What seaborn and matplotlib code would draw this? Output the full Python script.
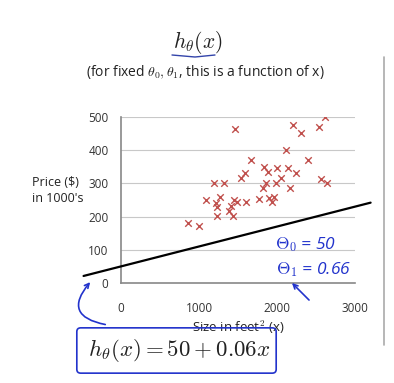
import matplotlib
matplotlib.use("Agg")
import matplotlib.pyplot as plt
import seaborn as sns
import numpy as np
import pandas as pd
from matplotlib.patches import FancyBboxPatch, FancyArrowPatch

sizes = [2615, 2200, 2303, 2534, 1461, 2111, 2402, 1667, 1833, 2004, 2141, 1889,
         2244, 1594, 1534, 2047, 2564, 2645, 1192, 1325, 1855, 1983, 1816, 2167,
         1269, 1094, 1449, 1769, 1902, 1962, 1940, 1603, 1483, 1218, 1235, 1410,
         1380, 1235, 1432, 855, 1004]
prices = [500, 475, 452, 470, 465, 400, 370, 369, 350, 347, 345, 333,
          332, 332, 316, 315, 314, 302, 300, 300, 302, 302, 287, 287,
          260, 250, 250, 253, 255, 260, 243, 244, 243, 242, 230, 232,
          217, 202, 202, 182, 171]
theta0 = 50
theta1 = 0.06
line_x = [-480, 3200]
x_ticks = [0, 1000, 2000, 3000]
y_ticks = [0, 100, 200, 300, 400, 500]

df = pd.DataFrame({"size": sizes, "price": prices})

sns.set_theme(style="white")
plt.rcParams["font.family"] = ["Open Sans", "DejaVu Sans"]
plt.rcParams["mathtext.fontset"] = "cm"

fig = plt.figure(figsize=(3.94, 3.83), dpi=100)
ax = fig.add_axes([121/394, 1 - 283/383, 234/394, 166/383])

for yv in y_ticks[1:]:
    ax.axhline(yv, color="#c8c8c8", lw=0.8, zorder=0)

sns.scatterplot(data=df, x="size", y="price", marker="x", color="#c0504d",
                s=22, linewidth=1.0, ax=ax, zorder=3)

lx = np.array(line_x, dtype=float)
ax.plot(lx, theta0 + theta1 * lx, color="black", lw=1.6, clip_on=False, zorder=4)

ax.set_xlim(0, 3000)
ax.set_ylim(0, 500)
ax.set_xticks(x_ticks)
ax.set_yticks(y_ticks)
ax.set_xticklabels([str(t) for t in x_ticks], fontsize=8.5, color="#333333", fontweight="medium")
ax.set_yticklabels([str(t) for t in y_ticks], fontsize=8.5, color="#333333", fontweight="medium")
for s in ["top", "right"]:
    ax.spines[s].set_visible(False)
for s in ["left", "bottom"]:
    ax.spines[s].set_color("#888888")
    ax.spines[s].set_linewidth(1.2)
ax.tick_params(axis="both", direction="out", length=4, width=1, color="#888888", pad=5)
ax.tick_params(axis="x", pad=10)
ax.set_xlabel("Size in feet$^2$ (x)", fontsize=9.5, color="#222222", labelpad=2,
              fontweight="medium")
ax.set_ylabel("")

fig.text(84/394, 1 - 190/383, "Price ($)\nin 1000's", ha="right", va="center",
         fontsize=9, color="#222222", linespacing=1.3, fontweight="medium",
         multialignment="left")

fig.text(198/394, 1 - 42/383, r"$h_\theta(x)$", ha="center", va="center",
         fontsize=15.5, color="#222222")
fig.add_artist(plt.Line2D([172/394, 195/394, 215/394], [1 - 55/383, 1 - 57/383, 1 - 55/383],
                          color="#3344aa", lw=1.0))
fig.text(205/394, 1 - 72/383, r"(for fixed $\theta_0, \theta_1$, this is a function of x)",
         ha="center", va="center", fontsize=10, color="#222222", fontweight="medium")

fig.add_artist(plt.Line2D([384/394, 384/394], [1 - 57/383, 1 - 345/383],
                          color="#aaaaaa", lw=1.2))

hand = "#2233cc"
fig.text(275/394, 1 - 245/383, r"$\Theta_0$ = 50", ha="left", va="center",
         fontsize=12.5, color=hand, style="italic")
fig.text(276/394, 1 - 270/383, r"$\Theta_1$ = 0.66", ha="left", va="center",
         fontsize=12.5, color=hand, style="italic")
fig.add_artist(FancyArrowPatch((311/394, 1 - 302/383), (290/394, 1 - 281/383),
                               transform=fig.transFigure, arrowstyle="->",
                               mutation_scale=8, color=hand, lw=1.2))
fig.add_artist(FancyArrowPatch((108/394, 1 - 325/383), (92/394, 1 - 280/383),
                               transform=fig.transFigure, arrowstyle="->",
                               connectionstyle="arc3,rad=-0.9",
                               mutation_scale=8, color=hand, lw=1.2))

fig.add_artist(FancyBboxPatch((78/394, 1 - 372/383), 197/394, 43/383,
                              boxstyle="round,pad=0.003,rounding_size=0.01",
                              transform=fig.transFigure, fill=False,
                              edgecolor=hand, lw=1.2))
fig.text(179/394, 1 - 351/383, r"$h_\theta(x) = 50 + 0.06x$", ha="center", va="center",
         fontsize=16.5, color="#222222")

fig.savefig("out.png", dpi=100, facecolor="white")
